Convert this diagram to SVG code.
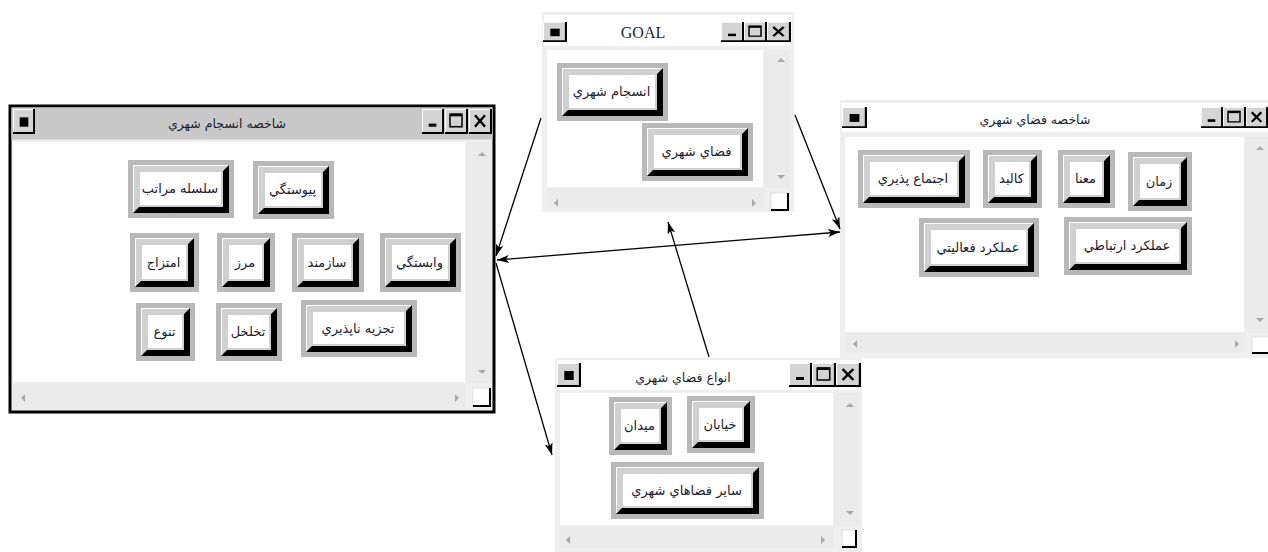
<svg xmlns="http://www.w3.org/2000/svg" xmlns:xlink="http://www.w3.org/1999/xlink" width="1268" height="552" viewBox="0 0 1268 552">
<style>
.bf{fill:#b8b8b8}
.bs{fill:#000}
.bb{fill:#d0d0d0}
.bl{fill:none;stroke:#fff;stroke-width:1}
.bw{fill:#fff}
.lbl{font-family:'DejaVu Sans','Noto Sans',sans-serif;font-size:13px;fill:#1c1c34;text-anchor:middle}
.ttl{font-family:'DejaVu Sans','Noto Sans',sans-serif;font-size:12.5px;fill:#1c1c34;text-anchor:middle}
.frame{fill:#efefef}
.tbar{fill:#fff}
.client{fill:#fff}
.sb{fill:#ebebeb}
.arr{fill:#a9a9a9}
.corner{fill:#fff;stroke:#e0e0e0;stroke-width:1}
.cedge{fill:none;stroke:#000;stroke-width:2}
.con{fill:none;stroke:#000;stroke-width:1.3}
</style>
<defs>
<marker id="ah" viewBox="0 0 12 8" refX="12" refY="4" markerWidth="12" markerHeight="8" markerUnits="userSpaceOnUse" orient="auto-start-reverse">
<path d="M0,0 L12,4 L0,8 L3,4 z" fill="#000"/>
</marker>
<symbol id="ctl" viewBox="0 0 23 24" preserveAspectRatio="none">
<rect x="0" y="0" width="23" height="24" fill="#d4d4d4"/>
<path d="M0.5,23 V0.5 H22" fill="none" stroke="#fff" stroke-width="1"/>
<path d="M22,0 V23 H0" fill="none" stroke="#000" stroke-width="2"/>
<rect x="7" y="8" width="9" height="9" fill="#000"/>
</symbol>
<symbol id="tmin" viewBox="0 0 23 24" preserveAspectRatio="none">
<rect x="0" y="0" width="23" height="24" fill="#d4d4d4"/>
<path d="M0.5,23 V0.5 H22" fill="none" stroke="#fff" stroke-width="1"/>
<path d="M22,0 V23 H0" fill="none" stroke="#000" stroke-width="2"/>
<rect x="7" y="14" width="8" height="3" fill="#000"/>
</symbol>
<symbol id="tmax" viewBox="0 0 23 24" preserveAspectRatio="none">
<rect x="0" y="0" width="23" height="24" fill="#d4d4d4"/>
<path d="M0.5,23 V0.5 H22" fill="none" stroke="#fff" stroke-width="1"/>
<path d="M22,0 V23 H0" fill="none" stroke="#000" stroke-width="2"/>
<rect x="5" y="5" width="12" height="12" fill="none" stroke="#000" stroke-width="1.5"/>
<rect x="5" y="4.5" width="12" height="2.5" fill="#000"/>
</symbol>
<symbol id="tclose" viewBox="0 0 23 24" preserveAspectRatio="none">
<rect x="0" y="0" width="23" height="24" fill="#d4d4d4"/>
<path d="M0.5,23 V0.5 H22" fill="none" stroke="#fff" stroke-width="1"/>
<path d="M22,0 V23 H0" fill="none" stroke="#000" stroke-width="2"/>
<path d="M6,6 L16,17 M16,6 L6,17" fill="none" stroke="#000" stroke-width="2.4"/>
</symbol>
</defs>
<rect x="0" y="0" width="1268" height="552" fill="#fff"/>

<!-- Left window -->
<g id="win-cohesion">
<rect x="10" y="106" width="484" height="306" class="frame" stroke="#000" stroke-width="3"/>
<rect x="11.5" y="107.5" width="481" height="32" fill="#c8c8c8"/>
<use href="#ctl" x="13" y="109" width="22" height="25"/>
<text x="227" y="128" class="ttl">شاخصه انسجام شهري</text>
<use href="#tmin" x="422" y="109" width="22" height="25"/>
<use href="#tmax" x="445" y="109" width="23" height="25"/>
<use href="#tclose" x="469" y="109" width="23" height="25"/>
<rect x="13" y="142" width="452" height="240" class="client"/>
<rect x="466" y="142" width="26" height="241" class="sb"/>
<polygon class="arr" points="478,156 486,156 482,152"/>
<polygon class="arr" points="478,370 486,370 482,374"/>
<rect x="13" y="384" width="453" height="26" class="sb"/>
<polygon class="arr" points="25,394 25,402 21,398"/>
<polygon class="arr" points="455,394 455,402 459,398"/>
<rect x="473" y="388" width="17" height="18" class="corner"/>
<path d="M490,388 V406 H473" class="cedge"/>

<g id="btn-hierarchy" transform="translate(128,160)">
<rect class="bf" width="106" height="58"/><rect class="bs" x="5" y="5" width="96" height="48"/>
<polygon class="bb" points="5,5 101,5 95,11 95,47 11,47 5,53"/><path class="bl" d="M5.5,52 V5.5 H100"/>
<rect class="bw" x="12" y="12" width="81" height="33"/>
<text class="lbl" x="52" y="33">سلسله مراتب</text>
</g>
<g id="btn-continuity" transform="translate(253,161)">
<rect class="bf" width="81" height="58"/><rect class="bs" x="5" y="5" width="71" height="48"/>
<polygon class="bb" points="5,5 76,5 70,11 70,47 11,47 5,53"/><path class="bl" d="M5.5,52 V5.5 H75"/>
<rect class="bw" x="12" y="12" width="56" height="33"/>
<text class="lbl" x="39.5" y="33">پيوستگي</text>
</g>
<g id="btn-mixing" transform="translate(130,233)">
<rect class="bf" width="69" height="59"/><rect class="bs" x="5" y="5" width="59" height="49"/>
<polygon class="bb" points="5,5 64,5 58,11 58,48 11,48 5,54"/><path class="bl" d="M5.5,53 V5.5 H63"/>
<rect class="bw" x="12" y="12" width="44" height="34"/>
<text class="lbl" x="33.5" y="33.5">امتزاج</text>
</g>
<g id="btn-border" transform="translate(217,233)">
<rect class="bf" width="58" height="59"/><rect class="bs" x="5" y="5" width="48" height="49"/>
<polygon class="bb" points="5,5 53,5 47,11 47,48 11,48 5,54"/><path class="bl" d="M5.5,53 V5.5 H52"/>
<rect class="bw" x="12" y="12" width="33" height="34"/>
<text class="lbl" x="28" y="33.5">مرز</text>
</g>
<g id="btn-organized" transform="translate(292,233)">
<rect class="bf" width="72" height="59"/><rect class="bs" x="5" y="5" width="62" height="49"/>
<polygon class="bb" points="5,5 67,5 61,11 61,48 11,48 5,54"/><path class="bl" d="M5.5,53 V5.5 H66"/>
<rect class="bw" x="12" y="12" width="47" height="34"/>
<text class="lbl" x="35" y="33.5">سازمند</text>
</g>
<g id="btn-dependency" transform="translate(380,233)">
<rect class="bf" width="81" height="59"/><rect class="bs" x="5" y="5" width="71" height="49"/>
<polygon class="bb" points="5,5 76,5 70,11 70,48 11,48 5,54"/><path class="bl" d="M5.5,53 V5.5 H75"/>
<rect class="bw" x="12" y="12" width="56" height="34"/>
<text class="lbl" x="39.5" y="33.5">وابستگي</text>
</g>
<g id="btn-diversity" transform="translate(136,303)">
<rect class="bf" width="59" height="58"/><rect class="bs" x="5" y="5" width="49" height="48"/>
<polygon class="bb" points="5,5 54,5 48,11 48,47 11,47 5,53"/><path class="bl" d="M5.5,52 V5.5 H53"/>
<rect class="bw" x="12" y="12" width="34" height="33"/>
<text class="lbl" x="28.5" y="33">تنوع</text>
</g>
<g id="btn-porosity" transform="translate(216,303)">
<rect class="bf" width="66" height="58"/><rect class="bs" x="5" y="5" width="56" height="48"/>
<polygon class="bb" points="5,5 61,5 55,11 55,47 11,47 5,53"/><path class="bl" d="M5.5,52 V5.5 H60"/>
<rect class="bw" x="12" y="12" width="41" height="33"/>
<text class="lbl" x="32" y="33">تخلخل</text>
</g>
<g id="btn-indivisibility" transform="translate(301,300)">
<rect class="bf" width="116" height="57"/><rect class="bs" x="5" y="5" width="106" height="47"/>
<polygon class="bb" points="5,5 111,5 105,11 105,46 11,46 5,52"/><path class="bl" d="M5.5,51 V5.5 H110"/>
<rect class="bw" x="12" y="12" width="91" height="32"/>
<text class="lbl" x="57" y="32.5">تجزيه ناپذيري</text>
</g>
</g>

<!-- GOAL window -->
<g id="win-goal">
<rect x="542" y="12" width="252" height="200" class="frame"/>
<rect x="544" y="15" width="248" height="31" class="tbar"/>
<use href="#ctl" x="543" y="22" width="24" height="20"/>
<text x="643" y="38" font-family="'Liberation Serif',serif" font-size="16" fill="#1c1c34" text-anchor="middle">GOAL</text>
<use href="#tmin" x="721" y="22" width="23" height="20"/>
<use href="#tmax" x="744" y="22" width="23" height="20"/>
<use href="#tclose" x="767" y="22" width="24" height="20"/>
<rect x="547" y="50" width="216" height="137" class="client"/>
<rect x="764" y="50" width="26" height="138" class="sb"/>
<polygon class="arr" points="777,62 785,62 781,58"/>
<polygon class="arr" points="777,175 785,175 781,179"/>
<rect x="547" y="188" width="217" height="20" class="sb"/>
<polygon class="arr" points="558,199 558,207 554,203"/>
<polygon class="arr" points="752,199 752,207 756,203"/>
<rect x="771" y="193" width="17" height="17" class="corner"/>
<path d="M788,193 V210 H771" class="cedge"/>
<g id="btn-goal-cohesion" transform="translate(557,63)">
<rect class="bf" width="111" height="58"/><rect class="bs" x="5" y="5" width="101" height="48"/>
<polygon class="bb" points="5,5 106,5 100,11 100,47 11,47 5,53"/><path class="bl" d="M5.5,52 V5.5 H105"/>
<rect class="bw" x="12" y="12" width="86" height="33"/>
<text class="lbl" x="54.5" y="33">انسجام شهري</text>
</g>
<g id="btn-goal-space" transform="translate(642,123)">
<rect class="bf" width="111" height="58"/><rect class="bs" x="5" y="5" width="101" height="48"/>
<polygon class="bb" points="5,5 106,5 100,11 100,47 11,47 5,53"/><path class="bl" d="M5.5,52 V5.5 H105"/>
<rect class="bw" x="12" y="12" width="86" height="33"/>
<text class="lbl" x="54.5" y="33">فضاي شهري</text>
</g>
</g>

<!-- Right window -->
<g id="win-space">
<rect x="840" y="100" width="430" height="258" class="frame"/>
<rect x="842" y="103" width="426" height="29" class="tbar"/>
<use href="#ctl" x="842" y="107" width="25" height="21"/>
<text x="1035" y="124" class="ttl">شاخصه فضاي شهري</text>
<use href="#tmin" x="1201" y="107" width="22" height="21"/>
<use href="#tmax" x="1223" y="107" width="23" height="21"/>
<use href="#tclose" x="1246" y="107" width="22" height="21"/>
<rect x="845" y="137" width="399" height="195" class="client"/>
<rect x="1245" y="137" width="23" height="196" class="sb"/>
<polygon class="arr" points="1256,150 1264,150 1260,146"/>
<polygon class="arr" points="1256,318 1264,318 1260,322"/>
<rect x="845" y="333" width="400" height="20" class="sb"/>
<polygon class="arr" points="857,340 857,348 853,344"/>
<polygon class="arr" points="1235,340 1235,348 1239,344"/>
<rect x="1252" y="337" width="17" height="16" class="corner"/>
<path d="M1269,337 V353 H1252" class="cedge"/>
<g id="btn-sociability" transform="translate(858,150)">
<rect class="bf" width="112" height="58"/><rect class="bs" x="5" y="5" width="102" height="48"/>
<polygon class="bb" points="5,5 107,5 101,11 101,47 11,47 5,53"/><path class="bl" d="M5.5,52 V5.5 H106"/>
<rect class="bw" x="12" y="12" width="87" height="33"/>
<text class="lbl" x="55" y="33">اجتماع پذيري</text>
</g>
<g id="btn-form" transform="translate(983,150)">
<rect class="bf" width="59" height="58"/><rect class="bs" x="5" y="5" width="49" height="48"/>
<polygon class="bb" points="5,5 54,5 48,11 48,47 11,47 5,53"/><path class="bl" d="M5.5,52 V5.5 H53"/>
<rect class="bw" x="12" y="12" width="34" height="33"/>
<text class="lbl" x="28.5" y="33">كالبد</text>
</g>
<g id="btn-meaning" transform="translate(1058,150)">
<rect class="bf" width="57" height="58"/><rect class="bs" x="5" y="5" width="47" height="48"/>
<polygon class="bb" points="5,5 52,5 46,11 46,47 11,47 5,53"/><path class="bl" d="M5.5,52 V5.5 H51"/>
<rect class="bw" x="12" y="12" width="32" height="33"/>
<text class="lbl" x="27.5" y="33">معنا</text>
</g>
<g id="btn-time" transform="translate(1128,152)">
<rect class="bf" width="64" height="59"/><rect class="bs" x="5" y="5" width="54" height="49"/>
<polygon class="bb" points="5,5 59,5 53,11 53,48 11,48 5,54"/><path class="bl" d="M5.5,53 V5.5 H58"/>
<rect class="bw" x="12" y="12" width="39" height="34"/>
<text class="lbl" x="31" y="33.5">زمان</text>
</g>
<g id="btn-activity" transform="translate(919,218)">
<rect class="bf" width="120" height="59"/><rect class="bs" x="5" y="5" width="110" height="49"/>
<polygon class="bb" points="5,5 115,5 109,11 109,48 11,48 5,54"/><path class="bl" d="M5.5,53 V5.5 H114"/>
<rect class="bw" x="12" y="12" width="95" height="34"/>
<text class="lbl" x="59" y="33.5">عملكرد فعاليتي</text>
</g>
<g id="btn-communication" transform="translate(1064,217)">
<rect class="bf" width="128" height="58"/><rect class="bs" x="5" y="5" width="118" height="48"/>
<polygon class="bb" points="5,5 123,5 117,11 117,47 11,47 5,53"/><path class="bl" d="M5.5,52 V5.5 H122"/>
<rect class="bw" x="12" y="12" width="103" height="33"/>
<text class="lbl" x="63" y="33">عملكرد ارتباطي</text>
</g>
</g>

<!-- Bottom window -->
<g id="win-types">
<rect x="555" y="358" width="307" height="196" class="frame"/>
<rect x="557" y="360" width="303" height="30" class="tbar"/>
<use href="#ctl" x="557" y="363" width="24" height="24"/>
<text x="683" y="382" class="ttl">انواع فضاي شهري</text>
<use href="#tmin" x="789" y="363" width="23" height="24"/>
<use href="#tmax" x="812" y="363" width="24" height="24"/>
<use href="#tclose" x="836" y="363" width="25" height="24"/>
<rect x="560" y="393" width="273" height="132" class="client"/>
<rect x="834" y="393" width="26" height="133" class="sb"/>
<polygon class="arr" points="846,407 854,407 850,403"/>
<polygon class="arr" points="846,511 854,511 850,515"/>
<rect x="560" y="526" width="274" height="22" class="sb"/>
<polygon class="arr" points="570,536 570,544 566,540"/>
<polygon class="arr" points="821,536 821,544 825,540"/>
<rect x="842" y="530" width="14" height="17" class="corner"/>
<path d="M856,530 V547 H842" class="cedge"/>
<g id="btn-square" transform="translate(609,397)">
<rect class="bf" width="63" height="58"/><rect class="bs" x="5" y="5" width="53" height="48"/>
<polygon class="bb" points="5,5 58,5 52,11 52,47 11,47 5,53"/><path class="bl" d="M5.5,52 V5.5 H57"/>
<rect class="bw" x="12" y="12" width="38" height="33"/>
<text class="lbl" x="30.5" y="33">ميدان</text>
</g>
<g id="btn-street" transform="translate(687,396)">
<rect class="bf" width="68" height="57"/><rect class="bs" x="5" y="5" width="58" height="47"/>
<polygon class="bb" points="5,5 63,5 57,11 57,46 11,46 5,52"/><path class="bl" d="M5.5,51 V5.5 H62"/>
<rect class="bw" x="12" y="12" width="43" height="32"/>
<text class="lbl" x="33" y="32.5">خيابان</text>
</g>
<g id="btn-other" transform="translate(611,462)">
<rect class="bf" width="153" height="57"/><rect class="bs" x="5" y="5" width="143" height="47"/>
<polygon class="bb" points="5,5 148,5 142,11 142,46 11,46 5,52"/><path class="bl" d="M5.5,51 V5.5 H147"/>
<rect class="bw" x="12" y="12" width="128" height="32"/>
<text class="lbl" x="75.5" y="32.5">ساير فضاهاي شهري</text>
</g>
</g>

<!-- Connectors -->
<g id="connectors">
<line class="con" x1="541" y1="118" x2="496" y2="256" marker-end="url(#ah)"/>
<line class="con" x1="795" y1="115" x2="840" y2="229" marker-end="url(#ah)"/>
<line class="con" x1="497" y1="260" x2="840" y2="232" marker-start="url(#ah)" marker-end="url(#ah)"/>
<line class="con" x1="709" y1="357" x2="668" y2="222" marker-end="url(#ah)"/>
<line class="con" x1="496" y1="263" x2="552" y2="455" marker-end="url(#ah)"/>
</g>
</svg>
